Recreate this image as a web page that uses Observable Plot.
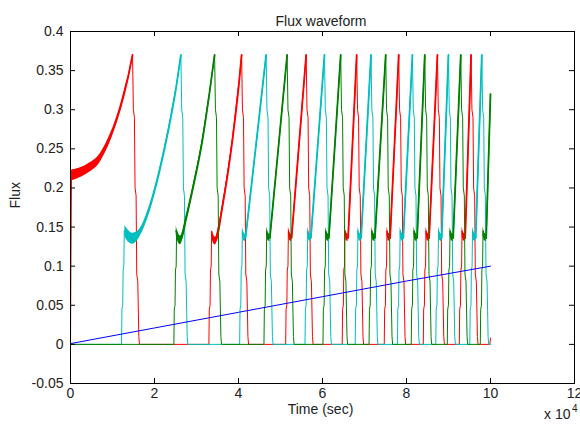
<!DOCTYPE html>
<html><head><meta charset="utf-8">
<script src="https://cdn.jsdelivr.net/npm/d3@7"></script>
<script src="https://cdn.jsdelivr.net/npm/@observablehq/plot@0.6"></script>
<style>html,body{margin:0;padding:0;background:#fff}</style>
</head><body><div id="chart"></div>
<script>
// ---- axis ticks ----
const xTicks = [0, 2, 4, 6, 8, 10, 12];
const yTicks = [-0.05, 0, 0.05, 0.1, 0.15, 0.2, 0.25, 0.3, 0.35, 0.4];

// ---- pulse timings (time in units of 1e4 s) ----
const redOnsets   = [0, 3.295, 5.123, 6.469, 7.470, 8.399, 9.257];
const redPeaks    = [1.477, 4.074, 5.611, 6.814, 7.815, 8.737, 9.538];
const cyanOnsets  = [1.215, 4.027, 5.583, 6.779, 7.784, 8.697, 9.507];
const cyanPeaks   = [2.628, 4.658, 6.047, 7.155, 8.141, 8.999, 9.793];
const greenOnsets = [2.461, 4.606, 6.011, 7.108, 8.113, 8.971, 9.757];
const greenPeaks  = [3.431, 5.158, 6.433, 7.505, 8.435, 9.292];
const peakFlux = 0.37;

// first (slow) pulses: body shape read point by point (x, flux, ripple band width)
const red1OnX = [0, 0.010];
const red1OnY = [0, 0.100];
const red1X = [0.024, 0.160, 0.398, 0.715, 0.953, 1.191, 1.351];
const red1Y = [0.216, 0.218, 0.224, 0.239, 0.265, 0.303, 0.337];
const red1W = [0.014, 0.013, 0.012, 0.011, 0.009, 0.007, 0.005];
const cyan1X = [1.294, 1.382, 1.477, 1.620, 1.866, 2.104, 2.342, 2.502];
const cyan1Y = [0.145, 0.138, 0.135, 0.140, 0.171, 0.218, 0.277, 0.324];
const cyan1W = [0.014, 0.015, 0.014, 0.011, 0.008, 0.006, 0.005, 0.004];
const green1X = [2.518, 2.560, 2.621, 2.750, 2.900, 3.138, 3.295];
const green1Y = [0.145, 0.137, 0.133, 0.160, 0.196, 0.260, 0.316];
const green1W = [0.012, 0.012, 0.011, 0.008, 0.006, 0.005, 0.004];
const red2X = [3.376, 3.410, 3.450, 3.614, 3.853, 4.010];
const red2Y = [0.140, 0.134, 0.132, 0.175, 0.260, 0.333];
const red2W = [0.011, 0.011, 0.010, 0.006, 0.005, 0.004];

// common step shapes seen on the later pulses (offsets from onset / peak)
const onsetDX   = [0, 0.010, 0.028, 0.038, 0.055, 0.065];
const onsetY    = [0, 0.045, 0.050, 0.095, 0.100, 0.145];
const plateauDX = [0.065, 0.100, 0.140];
const plateauY  = [0.145, 0.138, 0.136];
const plateauW  = [0.010, 0.011, 0.009];
const fallDX = [0, 0.020, 0.045, 0.060, 0.085, 0.100, 0.125, 0.150, 0.165];
const fallY  = [0.37, 0.30, 0.29, 0.20, 0.19, 0.09, 0.08, 0.01, 0];

// tails at the end of the run
const redTailX = [9.983, 10.0];
const redTailY = [0, 0.008];
const cyanTailX = [10.0];
const cyanTailY = [0];
const greenEndX = 10.0;
const greenEndY = 0.32;

// blue line
const blueX = [0, 2, 4, 6, 8, 10];
const blueY = [0.001, 0.021, 0.041, 0.061, 0.081, 0.100];

function build(name, color, onsets, peaks, early, startAtZero, tailX, tailY, endPoint) {
  const line = [], ramps = [], bands = [];
  if (startAtZero) line.push({x: 0, y: 0});
  onsets.forEach((o, i) => {
    const e = early[i];
    const pulse = name + i;
    if (e && e.onX) e.onX.forEach((x, k) => line.push({x, y: e.onY[k]}));
    else onsetDX.forEach((d, k) => line.push({x: o + d, y: onsetY[k]}));
    const bx = e ? e.x : plateauDX.map(d => o + d);
    const by = e ? e.y : plateauY;
    const bw = e ? e.w : plateauW;
    bx.forEach((x, k) => {
      line.push({x, y: by[k]});
      bands.push({pulse, x, lo: by[k] - bw[k] / 2, hi: by[k] + bw[k] / 2});
    });
    const p = peaks[i];
    const top = p !== undefined ? {x: p, y: peakFlux} : endPoint;
    if (e) bx.forEach((x, k) => ramps.push({pulse, x, y: by[k]}));
    else ramps.push({pulse, x: bx[bx.length - 1], y: by[by.length - 1]});
    ramps.push({pulse, x: top.x, y: top.y});
    if (p !== undefined) fallDX.forEach((d, k) => line.push({x: p + d, y: fallY[k]}));
    else line.push(top);
  });
  tailX.forEach((x, k) => line.push({x, y: tailY[k]}));
  return {color, line, ramps, bands};
}

const series = [
  build("r", "#ff0000", redOnsets, redPeaks,
    {0: {onX: red1OnX, onY: red1OnY, x: red1X, y: red1Y, w: red1W}, 1: {x: red2X, y: red2Y, w: red2W}},
    false, redTailX, redTailY, null),
  build("c", "#00bfbf", cyanOnsets, cyanPeaks,
    {0: {x: cyan1X, y: cyan1Y, w: cyan1W}}, true, cyanTailX, cyanTailY, null),
  build("g", "#008000", greenOnsets, greenPeaks,
    {0: {x: green1X, y: green1Y, w: green1W}}, true, [], [], {x: greenEndX, y: greenEndY})
];

const W = 580, H = 426;
const M = {top: 31, right: 6, bottom: 43, left: 70};
const PW = W - M.left - M.right, PH = H - M.top - M.bottom;

const marks = [];
for (const s of series) {
  marks.push(Plot.areaY(s.bands, {x: "x", y1: "lo", y2: "hi", z: "pulse", fill: s.color, curve: "monotone-x"}));
  marks.push(Plot.line(s.line, {x: "x", y: "y", stroke: s.color, strokeWidth: 1}));
  marks.push(Plot.line(s.ramps, {x: "x", y: "y", z: "pulse", stroke: s.color, strokeWidth: 1.8, curve: "monotone-x"}));
}
marks.push(Plot.line(blueX.map((x, i) => ({x, y: blueY[i]})), {x: "x", y: "y", stroke: "#0000ff", strokeWidth: 1}));

// box and inward ticks (MATLAB style)
marks.push(Plot.frame({stroke: "black", strokeWidth: 1}));
marks.push(Plot.ruleX(xTicks, {x: d => d, insetTop: PH - 5, stroke: "black"}));
marks.push(Plot.ruleX(xTicks, {x: d => d, insetBottom: PH - 5, stroke: "black"}));
marks.push(Plot.ruleY(yTicks, {y: d => d, insetRight: PW - 5, stroke: "black"}));
marks.push(Plot.ruleY(yTicks, {y: d => d, insetLeft: PW - 5, stroke: "black"}));
marks.push(Plot.axisX(xTicks, {anchor: "bottom", tickSize: 0, tickPadding: 5, label: null, tickFormat: d => String(d)}));
marks.push(Plot.axisY(yTicks, {anchor: "left", tickSize: 0, tickPadding: 7, label: null, tickFormat: d => String(+d.toFixed(2))}));

// labels
marks.push(Plot.text(["Flux waveform"], {text: d => d, frameAnchor: "top", dx: -1.5, dy: -15.5, fill: "#222"}));
marks.push(Plot.text(["Time (sec)"], {text: d => d, frameAnchor: "bottom", dx: -2, dy: 30.5, fill: "#222"}));
marks.push(Plot.text(["Flux"], {text: d => d, frameAnchor: "left", rotate: -90, dx: -55, dy: 1, fill: "#222"}));
marks.push(Plot.text(["x 10"], {text: d => d, frameAnchor: "bottom-right", textAnchor: "end", dx: -4, dy: 35.5, fill: "#222"}));
marks.push(Plot.text(["4"], {text: d => d, frameAnchor: "bottom-right", textAnchor: "start", dx: -2.5, dy: 28, fontSize: 10, fill: "#222"}));

const chart = Plot.plot({
  width: W, height: H,
  marginTop: M.top, marginRight: M.right, marginBottom: M.bottom, marginLeft: M.left,
  x: {domain: [0, 12]},
  y: {domain: [-0.05, 0.4]},
  style: {fontFamily: "'Liberation Sans', Arial, sans-serif", fontSize: "14px", background: "#fff", color: "#222", overflow: "visible"},
  marks
});
document.getElementById("chart").appendChild(chart);
</script>
</body></html>
